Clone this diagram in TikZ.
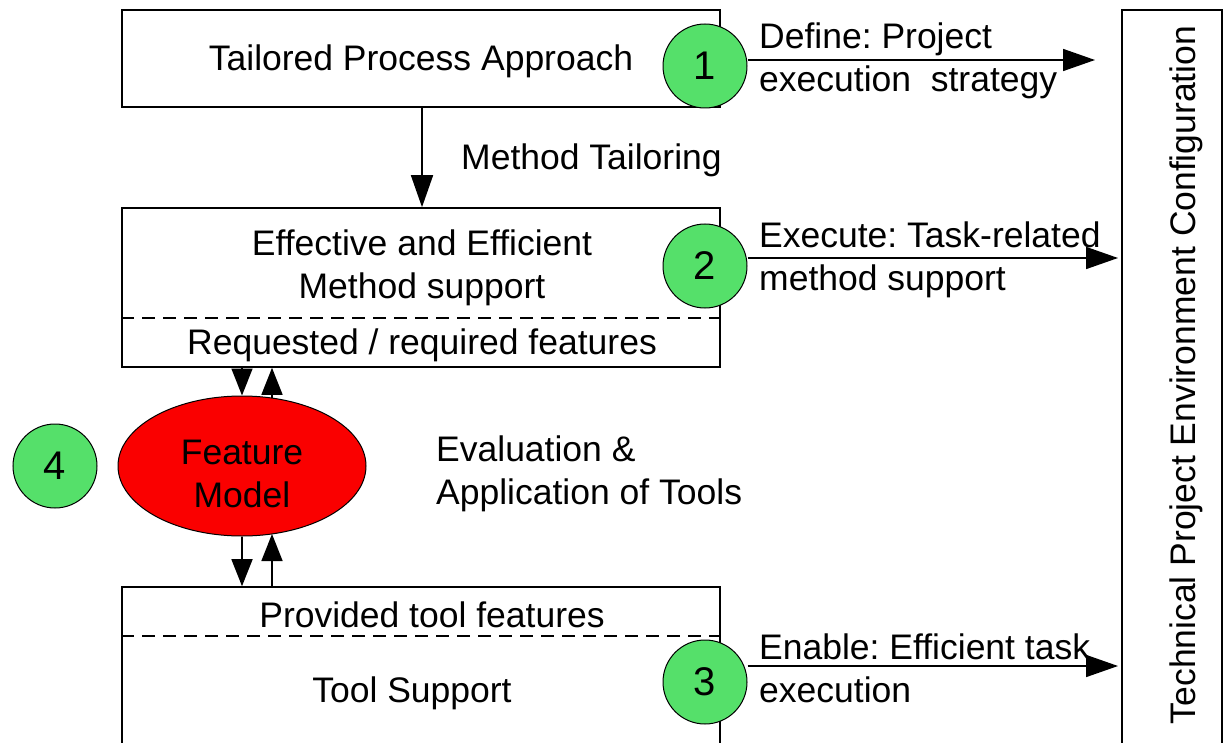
\documentclass[tikz,border=0pt]{standalone}
\usepackage{fontspec}
\setmainfont{Liberation Sans}
\usetikzlibrary{arrows.meta,shapes.geometric}
\definecolor{cgreen}{RGB}{85,224,106}
\definecolor{cred}{RGB}{250,0,0}
\frenchspacing
\tikzset{
  lw/.style={line width=1.6pt},
  boxnode/.style={draw,lw,inner sep=0pt},
  num/.style={circle,draw,line width=1pt,fill=cgreen,minimum size=84pt,inner sep=0pt},
  txt/.style={inner sep=0pt,font=\fontsize{35.5}{43}\selectfont},
  lbl/.style={txt,anchor=west,align=left},
  arr/.style={lw,-{Triangle[length=32pt,width=22pt]}},
  sarr/.style={lw,-{Triangle[length=27pt,width=21pt]}},
  dsh/.style={lw,dash pattern=on 13pt off 8pt}
}
\begin{document}
\begin{tikzpicture}[x=1pt,y=-1pt]
\clip (0,0) rectangle (1225,743);
\fill[white] (0,0) rectangle (1225,743);
% boxes
\node[boxnode,minimum width=598pt,minimum height=97pt] (b1) at (421,58.5) {};
\node[boxnode,minimum width=598pt,minimum height=159pt] (b2) at (421,287.5) {};
\node[boxnode,minimum width=598pt,minimum height=180pt] (b3) at (421,677) {};
\node[boxnode,minimum width=100pt,minimum height=760pt] (rb) at (1172,390) {};
\draw[dsh] (b2.west |- 0,318) coordinate (d2a) -- (b2.east |- 0,318) coordinate (d2b);
\draw[dsh] (b3.west |- 0,636) coordinate (d3a) -- (b3.east |- 0,636) coordinate (d3b);
% texts in boxes
\node[txt] (t1) at (421,61) {Tailored Process Approach};
\node[txt,align=center] (t2) at (422,268) {Effective and Efficient\\Method support};
\node[txt] (t2b) at (422,345) {Requested / required features};
\node[txt] (t3a) at (432,615) {Provided tool features};
\node[txt] (t3b) at (412,693) {Tool Support};
\node[txt,rotate=90] (trb) at (1186,375) {Technical Project Environment Configuration};
% method tailoring
\draw[arr] (b1.south -| 422,0) -- (b2.north -| 422,0);
\node[txt,anchor=west] (mt) at (461,160) {Method Tailoring};
% feature model
\node[ellipse,draw,line width=1pt,fill=cred,minimum width=248pt,minimum height=140pt,inner sep=0pt] (fm) at (242,466) {};
\node[txt,align=center] (fmt) at (242,474) {Feature\\Model};
\draw[sarr] (b2.south -| 242,0) -- (fm.north -| 242,0);
\draw[sarr] (272,398) coordinate (u1) -- (b2.south -| 272,0);
\draw[sarr] (fm.south -| 242,0) -- (b3.north -| 242,0);
\draw[sarr] (b3.north -| 272,0) -- (272,534) coordinate (u2e);
\node[txt,anchor=west,align=left] (eval) at (436,474) {Evaluation \&\\Application of Tools};
% numbered circles
\node[num] (c1) at (705,66) {\fontsize{40}{42}\selectfont 1};
\node[num] (c2) at (705,266) {\fontsize{40}{42}\selectfont 2};
\node[num] (c3) at (705,682) {\fontsize{40}{42}\selectfont 3};
\node[num] (c4) at (55,466) {\fontsize{40}{42}\selectfont 4};
% output arrows
\coordinate (e1) at (1095,60);
\coordinate (e2) at (1118,258);
\coordinate (e3) at (1118,666);
\draw[arr] (c1.east |- e1) -- (e1);
\draw[arr] (c2.east |- e2) -- (e2);
\draw[arr] (c3.east |- e3) -- (e3);
\node[lbl] (l1) at (759,61) {Define: Project\\execution\ \ strategy};
\node[lbl] (l2) at (759,260) {Execute: Task-related\\method support};
\node[lbl] (l3) at (759,668) {Enable: Efficient task\\execution};
\end{tikzpicture}
\end{document}
